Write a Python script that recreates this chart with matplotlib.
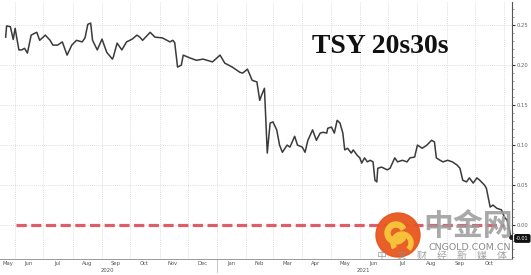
import numpy as np
import pandas as pd
import matplotlib
matplotlib.use("Agg")
import matplotlib.pyplot as plt
import matplotlib.dates as mdates
from matplotlib.patches import Circle, Wedge

# data: days since start date and spread value (pct points)
start = "2020-05-16"
days = [6, 7, 11, 14, 16, 20, 23, 26, 29, 33, 37, 39, 42, 48, 53, 56, 61, 66, 71, 76,
        81, 87, 90, 93, 96, 98, 103, 108, 113, 119, 120, 124, 129, 134, 140, 145, 148, 151, 159, 164,
        172, 180, 183, 185, 188, 192, 194, 201, 208, 215, 225, 233, 238, 246, 254, 257, 262, 267, 272, 275,
        277, 280, 283, 286, 289, 293, 296, 299, 304, 307, 312, 315, 320, 323, 326, 331, 335, 339, 342, 346,
        347, 351, 354, 357, 360, 363, 365, 368, 372, 374, 378, 381, 383, 386, 389, 392, 395, 397, 399, 400,
        404, 410, 413, 418, 421, 426, 431, 434, 439, 442, 447, 452, 457, 460, 462, 466, 469, 474, 479, 484,
        487, 490, 494, 497, 501, 505, 508, 513, 515, 519, 522, 526, 531, 534, 537, 539, 541]
spread = [0.235, 0.249, 0.248, 0.232, 0.246, 0.219, 0.219, 0.221, 0.215, 0.2375, 0.240, 0.241, 0.231, 0.2375, 0.231, 0.225, 0.225, 0.229, 0.2125, 0.225,
          0.231, 0.229, 0.234, 0.251, 0.2525, 0.231, 0.219, 0.2325, 0.216, 0.2075, 0.210, 0.2275, 0.219, 0.229, 0.2325, 0.2375, 0.235, 0.231, 0.241, 0.235,
          0.234, 0.229, 0.231, 0.228, 0.1975, 0.200, 0.2125, 0.209, 0.206, 0.2075, 0.204, 0.2125, 0.2025, 0.1975, 0.191, 0.190, 0.195, 0.181, 0.179, 0.156,
          0.1625, 0.171, 0.090, 0.1275, 0.129, 0.119, 0.100, 0.091, 0.100, 0.0975, 0.111, 0.100, 0.0975, 0.091, 0.106, 0.119, 0.106, 0.115, 0.116, 0.115,
          0.121, 0.1225, 0.115, 0.131, 0.1275, 0.115, 0.094, 0.096, 0.090, 0.094, 0.0875, 0.084, 0.0775, 0.084, 0.079, 0.081, 0.079, 0.056, 0.054, 0.071,
          0.0725, 0.069, 0.071, 0.084, 0.079, 0.081, 0.079, 0.084, 0.085, 0.100, 0.096, 0.100, 0.106, 0.104, 0.084, 0.081, 0.079, 0.081, 0.079, 0.075,
          0.071, 0.056, 0.054, 0.059, 0.0525, 0.059, 0.056, 0.050, 0.046, 0.0225, 0.025, 0.021, 0.019, 0.010, 0.006, -0.004, -0.015]

month_labels = ["May", "Jun", "Jul", "Aug", "Sep", "Oct", "Nov", "Dec", "Jan",
                "Feb", "Mar", "Apr", "May", "Jun", "Jul", "Aug", "Sep", "Oct"]
month_label_dates = ["2020-05-24", "2020-06-15", "2020-07-16", "2020-08-16", "2020-09-15",
                     "2020-10-16", "2020-11-15", "2020-12-16", "2021-01-16", "2021-02-14",
                     "2021-03-16", "2021-04-15", "2021-05-16", "2021-06-15", "2021-07-16",
                     "2021-08-16", "2021-09-15", "2021-10-16"]
years = ["2020", "2021"]
year_label_dates = ["2020-09-07", "2021-06-05"]
yticks = [0.00, 0.05, 0.10, 0.15, 0.20, 0.25]
last_label = "-0.01"

t0 = pd.Timestamp(start)
dates = t0 + pd.to_timedelta(days, unit="D")

fig = plt.figure(figsize=(5.31, 2.75), dpi=100)
ax = fig.add_axes([0.0, 0.058, 0.964, 0.935])

ax.plot(dates, spread, color="#3a3a3a", lw=1.1, zorder=3)
ax.plot(dates[-1], spread[-1], "o", color="#222222", ms=2.5, zorder=4)

# zero line
ax.axhline(0.0, xmin=0.032, xmax=0.985, color="#d9424f", lw=2.3,
           ls=(0, (3.2, 1.4)), alpha=0.85, zorder=2)

ax.set_xlim(t0, t0 + pd.Timedelta(days=542))
ax.set_ylim(-0.0425, 0.279)

# x axis: month grid + mid-month labels
ax.xaxis.set_major_locator(mdates.MonthLocator())
ax.xaxis.set_major_formatter(plt.NullFormatter())
ax.set_xticks(pd.to_datetime(month_label_dates), minor=True)
ax.set_xticklabels(month_labels, minor=True)
ax.tick_params(axis="x", which="major", length=0)
ax.tick_params(axis="x", which="minor", length=0, labelsize=3.8,
               labelcolor="#555555", pad=1.5)
for lbl, d in zip(years, year_label_dates):
    ax.text(pd.Timestamp(d), -0.045, lbl, transform=ax.get_xaxis_transform(),
            ha="center", va="center", fontsize=3.8, color="#555555")
ax.plot([pd.Timestamp("2021-01-01")] * 2, [0, -0.05], transform=ax.get_xaxis_transform(),
        color="#aaaaaa", lw=0.5, clip_on=False)

# y axis on right
ax.yaxis.tick_right()
ax.set_yticks(yticks)
ax.set_yticklabels([f"{v:.2f}" for v in yticks])
ax.set_yticks(np.arange(-0.04, 0.28, 0.01), minor=True)
ax.tick_params(axis="y", which="major", length=2.5, width=0.8, color="#333333",
               labelsize=3.8, labelcolor="#666666", pad=1)
ax.tick_params(axis="y", which="minor", length=1.2, width=0.5, color="#777777")

ax.grid(True, which="major", color="#d4d4d4", lw=0.6, ls=(0, (1, 1.5)))

for s in ["top", "left"]:
    ax.spines[s].set_visible(False)
ax.spines["right"].set_color("#555555")
ax.spines["right"].set_linewidth(0.8)
ax.spines["bottom"].set_color("#999999")
ax.spines["bottom"].set_linewidth(0.7)

# last value tag
ax.annotate(last_label, xy=(1.0, spread[-1]), xycoords=("axes fraction", "data"),
            xytext=(3, -1), textcoords="offset points", fontsize=3.5, color="white",
            va="center", ha="left", annotation_clip=False,
            bbox=dict(boxstyle="round,pad=0.25", fc="#111111", ec="#111111"))

fig.text(0.716, 0.83, "TSY 20s30s", fontsize=20, fontweight="bold",
         family="Liberation Serif", ha="center", va="center", color="#111111")

# watermark
wax = fig.add_axes([0, 0, 1, 1], facecolor="none")
wax.set_xlim(0, 531)
wax.set_ylim(275, 0)
wax.axis("off")
wax.add_patch(Circle((398, 235), 22, color="#e8561e", alpha=0.95))
wax.add_patch(Wedge((396, 233), 11, 30, 330, width=5, color="#f6c23a"))
wax.add_patch(Wedge((402, 243), 11, 150, 40, width=4, color="#f6c23a"))
wax.text(468, 226, "中金网", fontsize=21.5, color="#9a9a9a", alpha=0.85,
         ha="center", va="center", family=["Noto Sans CJK SC"], fontweight="bold")
wax.text(470, 247, "CNGOLD.COM.CN", fontsize=6.8, color="#8c8c8c",
         ha="center", va="center", family="DejaVu Sans")
wax.text(442, 256, "中\u3000文\u3000财\u3000经\u3000新\u3000媒\u3000体", fontsize=7.2,
         color="#8c8c8c", alpha=0.8, ha="center", va="center",
         family=["Noto Sans CJK SC"])

fig.savefig("out.png", dpi=100)
